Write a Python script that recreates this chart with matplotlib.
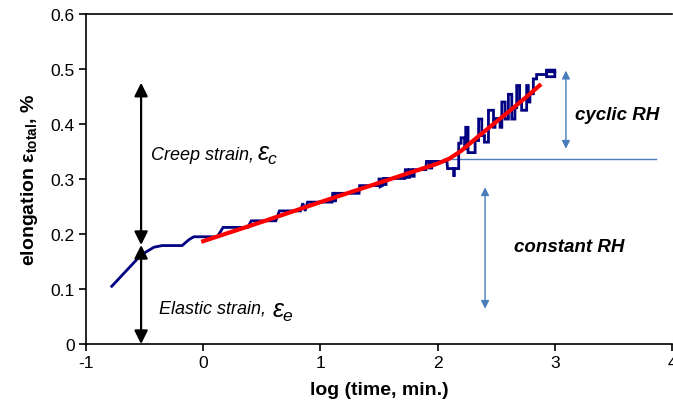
import matplotlib
matplotlib.use("Agg")
import matplotlib.pyplot as plt

plt.rcParams['font.family'] = ['Liberation Sans', 'DejaVu Sans']
plt.rcParams['mathtext.fontset'] = 'custom'
plt.rcParams['mathtext.rm'] = 'Liberation Sans'
plt.rcParams['mathtext.it'] = 'Liberation Sans:italic'
plt.rcParams['mathtext.bf'] = 'Liberation Sans:bold'
plt.rcParams['axes.unicode_minus'] = False

# measured elongation (staircase record)
meas_x = [-0.78, -0.53, -0.42, -0.35, -0.18, -0.12, -0.08, 0.12, 0.17, 0.38, 0.41, 0.62,
          0.65, 0.83, 0.85, 0.87, 0.89, 1.10, 1.105, 1.125, 1.125, 1.13, 1.33, 1.335,
          1.50, 1.50, 1.51, 1.51, 1.53, 1.535, 1.55, 1.55, 1.56, 1.56, 1.72, 1.725,
          1.74, 1.74, 1.76, 1.76, 1.78, 1.78, 1.80, 1.80, 1.90, 1.905, 1.93, 1.93,
          1.95, 1.95, 2.08, 2.085, 2.14, 2.14, 2.14, 2.18, 2.18, 2.20, 2.20, 2.23,
          2.23, 2.24, 2.24, 2.26, 2.26, 2.32, 2.32, 2.35, 2.35, 2.377, 2.377, 2.40,
          2.40, 2.434, 2.434, 2.477, 2.477, 2.49, 2.49, 2.533, 2.533, 2.548, 2.548, 2.576,
          2.576, 2.604, 2.604, 2.633, 2.633, 2.66, 2.66, 2.675, 2.675, 2.70, 2.70, 2.717,
          2.717, 2.76, 2.76, 2.774, 2.774, 2.788, 2.788, 2.817, 2.817, 2.845, 2.845, 2.916,
          2.93, 2.93, 3.0, 3.0, 2.93, 2.93, 3.0]
meas_y = [0.105, 0.162, 0.176, 0.179, 0.179, 0.19, 0.195, 0.195, 0.212, 0.212, 0.224, 0.224,
          0.242, 0.242, 0.256, 0.242, 0.258, 0.258, 0.274, 0.274, 0.258, 0.274, 0.274, 0.288,
          0.288, 0.300, 0.300, 0.286, 0.288, 0.301, 0.301, 0.290, 0.290, 0.301, 0.301, 0.317,
          0.317, 0.303, 0.303, 0.317, 0.317, 0.305, 0.305, 0.317, 0.317, 0.332, 0.332, 0.320,
          0.320, 0.332, 0.332, 0.319, 0.319, 0.304, 0.319, 0.319, 0.365, 0.365, 0.375, 0.375,
          0.355, 0.355, 0.394, 0.394, 0.348, 0.348, 0.370, 0.370, 0.409, 0.409, 0.379, 0.379,
          0.367, 0.367, 0.425, 0.425, 0.394, 0.394, 0.410, 0.410, 0.394, 0.394, 0.440, 0.440,
          0.409, 0.409, 0.454, 0.454, 0.409, 0.409, 0.430, 0.430, 0.470, 0.470, 0.440, 0.440,
          0.425, 0.425, 0.470, 0.470, 0.440, 0.440, 0.455, 0.455, 0.482, 0.482, 0.490, 0.490,
          0.490, 0.498, 0.498, 0.486, 0.486, 0.495, 0.495]

# fitted curve
fit_x = [0.0, 0.5, 1.0, 1.5, 2.0, 2.1, 2.2, 2.35, 2.5, 2.65, 2.8, 2.87]
fit_y = [0.187, 0.222, 0.258, 0.293, 0.328, 0.337, 0.351, 0.378, 0.404, 0.430, 0.457, 0.470]

fig = plt.figure(figsize=(6.73, 4.10), dpi=100)
ax = fig.add_axes([0.1278, 0.1585, 0.8707, 0.8049])

ax.plot(meas_x, meas_y, color='#000080', lw=2.0, solid_joinstyle='miter', zorder=3)
ax.plot(fit_x, fit_y, color='#FF0000', lw=3.0, zorder=4)

ax.set_xlim(-1, 4)
ax.set_ylim(0, 0.6)
ax.set_xticks([-1, 0, 1, 2, 3, 4])
ax.set_yticks([0, 0.1, 0.2, 0.3, 0.4, 0.5, 0.6])
ax.set_yticklabels(['0', '0.1', '0.2', '0.3', '0.4', '0.5', '0.6'])
ax.tick_params(direction='out', length=5, width=1.2, labelsize=12.5, pad=3)
for s in ['left', 'bottom', 'top']:
    ax.spines[s].set_linewidth(1.2)
ax.spines['right'].set_visible(False)

ax.set_xlabel('log (time, min.)', fontsize=14, fontweight='bold', labelpad=8)
ax.set_ylabel(r'elongation $\mathregular{\varepsilon}_{\mathregular{total}}$, %',
              fontsize=14, fontweight='bold', labelpad=8)

# black double arrows
ax.annotate('', xy=(-0.53, 0.475), xytext=(-0.53, 0.18),
            arrowprops=dict(arrowstyle='<|-|>,head_length=0.4,head_width=0.2',
                            mutation_scale=20, color='black', lw=1.6,
                            shrinkA=0, shrinkB=0), zorder=5)
ax.annotate('', xy=(-0.53, 0.18), xytext=(-0.53, 0.0),
            arrowprops=dict(arrowstyle='<|-|>,head_length=0.4,head_width=0.2',
                            mutation_scale=20, color='black', lw=1.6,
                            shrinkA=0, shrinkB=0), zorder=5)

ax.text(-0.445, 0.345, 'Creep strain,', fontsize=13, style='italic', va='center', ha='left')
ax.text(0.46, 0.345, r'$\varepsilon_c$', fontsize=18, va='center', ha='left')
ax.text(-0.374, 0.065, 'Elastic strain,', fontsize=13, style='italic', va='center', ha='left')
ax.text(0.585, 0.06, r'$\varepsilon_e$', fontsize=18, va='center', ha='left')

# blue annotations
bcol = '#4A7EBB'
ax.plot([2.05, 3.86], [0.336, 0.336], color=bcol, lw=1.0, zorder=2)
ax.annotate('', xy=(3.095, 0.497), xytext=(3.095, 0.355),
            arrowprops=dict(arrowstyle='<|-|>,head_length=0.4,head_width=0.2',
                            mutation_scale=12, color=bcol, lw=1.0,
                            shrinkA=0, shrinkB=0))
ax.annotate('', xy=(2.405, 0.285), xytext=(2.405, 0.064),
            arrowprops=dict(arrowstyle='<|-|>,head_length=0.4,head_width=0.2',
                            mutation_scale=12, color=bcol, lw=1.0,
                            shrinkA=0, shrinkB=0))
ax.text(3.17, 0.418, 'cyclic RH', fontsize=13.5, fontweight='bold', style='italic',
        va='center', ha='left')
ax.text(2.65, 0.177, 'constant RH', fontsize=13.5, fontweight='bold', style='italic',
        va='center', ha='left')

fig.savefig('out.png', dpi=100)
